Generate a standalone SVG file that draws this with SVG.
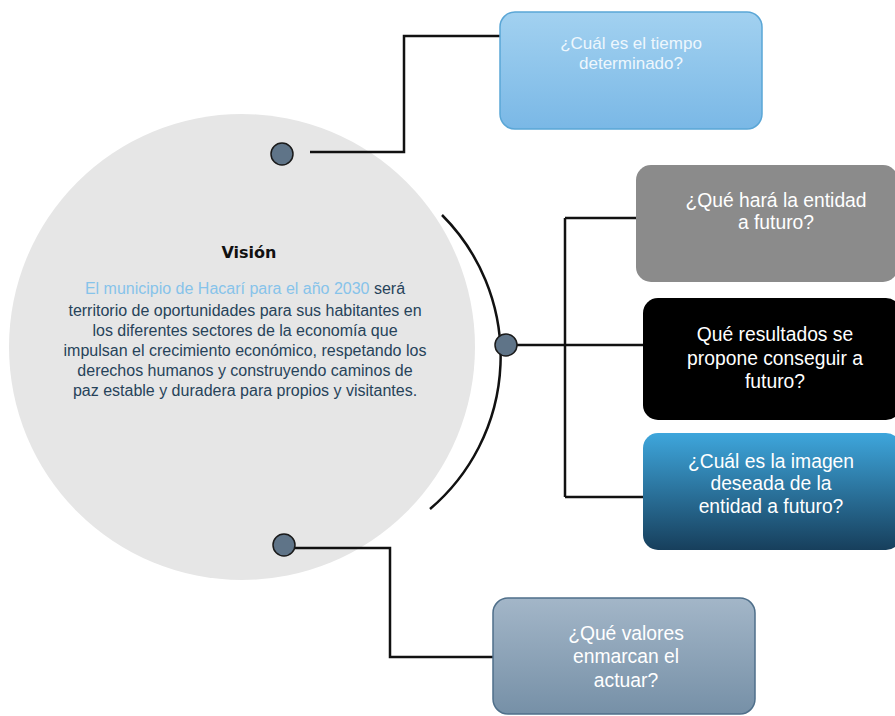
<svg xmlns="http://www.w3.org/2000/svg" width="895" height="716" viewBox="0 0 895 716">
  <defs>
    <linearGradient id="gTop" x1="0" y1="0" x2="0" y2="1">
      <stop offset="0" stop-color="#a2d1f0"/>
      <stop offset="1" stop-color="#7ab8e6"/>
    </linearGradient>
    <linearGradient id="gBlue" x1="0" y1="0" x2="0" y2="1">
      <stop offset="0" stop-color="#3ea6dc"/>
      <stop offset="1" stop-color="#173f5c"/>
    </linearGradient>
    <linearGradient id="gSlate" x1="0" y1="0" x2="0" y2="1">
      <stop offset="0" stop-color="#a3b6c8"/>
      <stop offset="1" stop-color="#7690a7"/>
    </linearGradient>
    <style>
      text { font-family: "Liberation Sans", Arial, sans-serif; text-anchor: middle; }
      .title { font-family: "DejaVu Sans", Verdana, sans-serif; font-size: 16px; font-weight: bold; fill: #111111; }
      .q { font-size: 19.3px; fill: #ffffff; }
      .qs { font-size: 17px; fill: #eef7fd; }
      .p { font-size: 16px; fill: #27435a; }
      .hl { fill: #86c3ea; }
      .wire { fill: none; stroke: #111111; stroke-width: 2.5; }
      .dot { fill: #5f7488; stroke: #1a1a1a; stroke-width: 1.5; }
    </style>
  </defs>

  <rect width="895" height="716" fill="#ffffff"/>

  <!-- central vision circle -->
  <g id="vision">
    <circle cx="242" cy="347" r="233" fill="#e6e6e6"/>
    <text class="title" x="249" y="258">Visión</text>
    <text class="p" x="245" y="294"><tspan class="hl">El municipio de Hacarí para el año 2030</tspan> será</text>
    <text class="p" x="245" y="316">territorio de oportunidades para sus habitantes en</text>
    <text class="p" x="245" y="336">los diferentes sectores de la economía que</text>
    <text class="p" x="245" y="356">impulsan el crecimiento económico, respetando los</text>
    <text class="p" x="245" y="376">derechos humanos y construyendo caminos de</text>
    <text class="p" x="245" y="396">paz estable y duradera para propios y visitantes.</text>
  </g>

  <!-- connectors -->
  <g id="connectors">
    <path class="wire" d="M442 215 A200 200 0 0 1 430 509"/>
    <path class="wire" d="M310 152 H404 V36 H500"/>
    <path class="wire" d="M506 345 H565 M565 218 V497 M565 218 H636 M565 345 H643 M565 497 H643"/>
    <path class="wire" d="M284 548 H390 V657 H493"/>
    <circle class="dot" cx="282" cy="154" r="11"/>
    <circle class="dot" cx="506" cy="345" r="11"/>
    <circle class="dot" cx="284" cy="545" r="11"/>
  </g>

  <g id="q-tiempo">
    <rect x="500" y="12" width="262" height="117" rx="15" fill="url(#gTop)" stroke="#5aa6d6" stroke-width="1.5"/>
    <text class="qs" x="631" y="49">¿Cuál es el tiempo</text>
    <text class="qs" x="631" y="69">determinado?</text>
  </g>

  <g id="q-hara">
    <rect x="636" y="165" width="262" height="117" rx="15" fill="#8b8b8b"/>
    <text class="q" x="776" y="207">¿Qué hará la entidad</text>
    <text class="q" x="776" y="229">a futuro?</text>
  </g>

  <g id="q-resultados">
    <rect x="643" y="298" width="258" height="122" rx="15" fill="#000000"/>
    <text class="q" x="775" y="341">Qué resultados se</text>
    <text class="q" x="775" y="365">propone conseguir a</text>
    <text class="q" x="775" y="388">futuro?</text>
  </g>

  <g id="q-imagen">
    <rect x="643" y="433" width="258" height="117" rx="15" fill="url(#gBlue)"/>
    <text class="q" x="771" y="468">¿Cuál es la imagen</text>
    <text class="q" x="771" y="490">deseada de la</text>
    <text class="q" x="771" y="513">entidad a futuro?</text>
  </g>

  <g id="q-valores">
    <rect x="493" y="598" width="262" height="116" rx="15" fill="url(#gSlate)" stroke="#4f6f8a" stroke-width="1.5"/>
    <text class="q" x="626" y="640">¿Qué valores</text>
    <text class="q" x="626" y="663">enmarcan el</text>
    <text class="q" x="626" y="687">actuar?</text>
  </g>
</svg>
